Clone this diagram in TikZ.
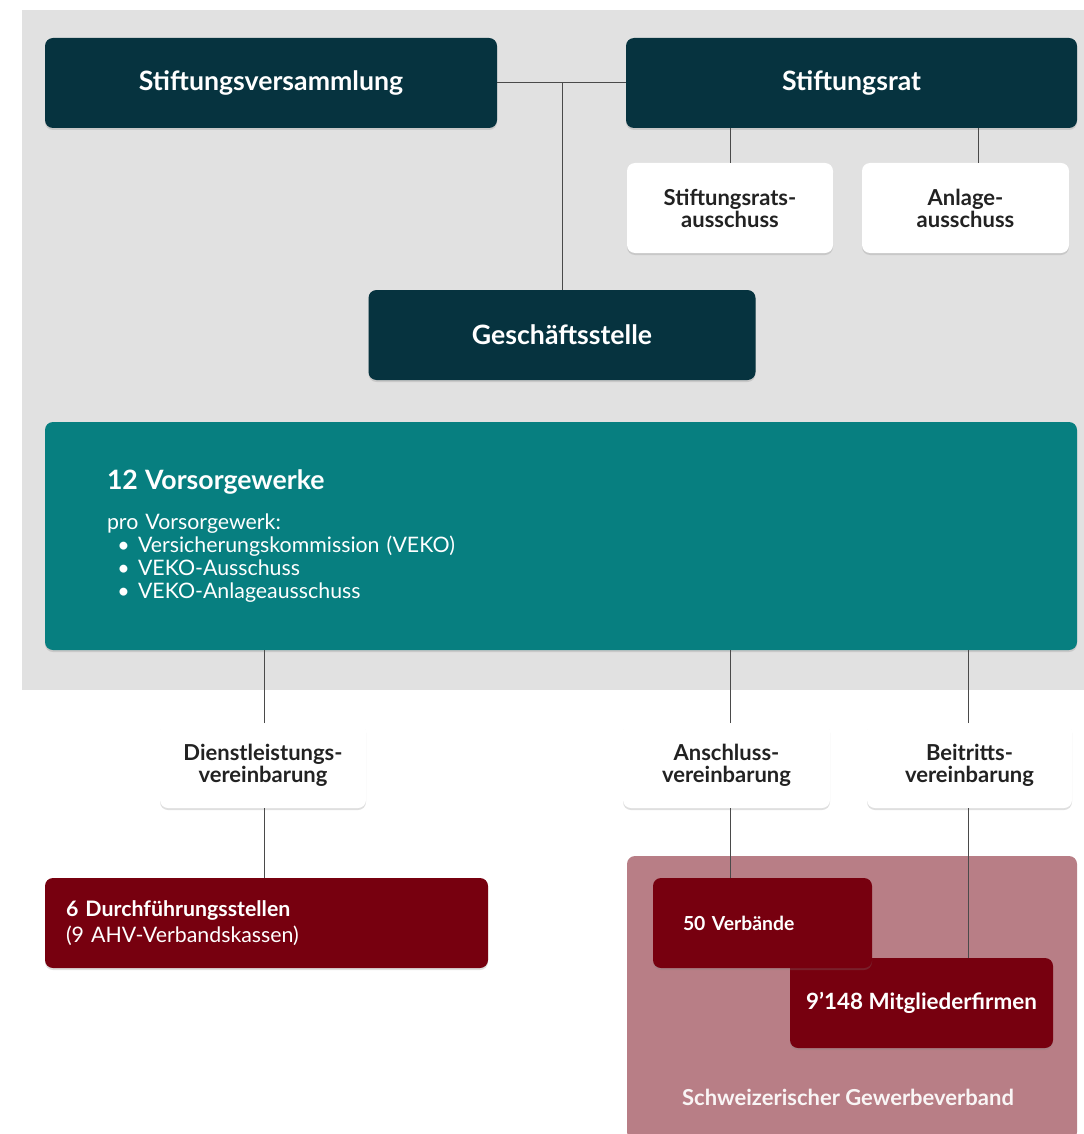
\documentclass[tikz,border=0pt]{standalone}
\usepackage{fontspec}
\setmainfont{Lato}
\usetikzlibrary{positioning,shadows}

\definecolor{navy}{HTML}{06333F}
\definecolor{teal}{HTML}{077F80}
\definecolor{wine}{HTML}{77000F}
\definecolor{rosepanel}{HTML}{B87E86}
\definecolor{panelgrey}{HTML}{E1E1E1}
\definecolor{ink}{HTML}{222222}
\definecolor{wire}{HTML}{4A4A4A}

\tikzset{
  card/.style={rounded corners=6pt, inner sep=0pt, minimum height=67.5pt,
    drop shadow={shadow xshift=0pt, shadow yshift=-1.5pt, opacity=0.25}},
  darkbox/.style={card, fill=navy, text=white, font=\bfseries\fontsize{20}{24}\selectfont},
  whitebox/.style={card, fill=white, text=ink, align=center, font=\bfseries\fontsize{16.5}{16.5}\selectfont},
  winebox/.style={card, fill=wine, text=white},
  wire/.style={draw=wire, line width=0.75pt}
}

\begin{document}
\begin{tikzpicture}[x=0.75pt, y=-0.75pt]
    %%%%% START %%%%%
    \useasboundingbox (0, 0) rectangle (1084, 1134);

    \fill[panelgrey] (22, 10) rectangle (1100, 690);

    \node[darkbox, minimum width=339pt] (sv) at (271, 83) {Stiftungsversammlung};
    \node[darkbox, minimum width=338.25pt] (sr) at (851.5, 83) {Stiftungsrat};
    \node[whitebox, minimum width=154.5pt] (sra) at (730, 208) {Stiftungsrats-\\ausschuss};
    \node[whitebox, minimum width=155.25pt] (aa) at (965.5, 208) {Anlage-\\ausschuss};
    \node[darkbox, minimum width=290.25pt] (gs) at (562, 335) {Geschäftsstelle};

    \draw[wire] (sv.east) -- (sr.west);
    \draw[wire] (gs.north |- sv.east) -- (gs.north);
    \draw[wire] (sra.north) -- (sra.north |- sr.south);
    \coordinate (aatop) at (978, 163);
    \draw[wire] (aatop) -- (aatop |- sr.south);

    \node[card, fill=teal, text=white, minimum width=774pt, minimum height=171pt,
          text width=681pt, align=left, inner xsep=46.5pt,
          font=\fontsize{16}{17.25}\selectfont] (vw) at (561, 536)
      {{\bfseries\fontsize{20}{24}\selectfont 12 Vorsorgewerke}\\[12.5pt]
       pro Vorsorgewerk:\\
       \hspace*{7.75pt}\textbullet\hspace{6.25pt}Versicherungskommission (VEKO)\\
       \hspace*{7.75pt}\textbullet\hspace{6.25pt}VEKO-Ausschuss\\
       \hspace*{7.75pt}\textbullet\hspace{6.25pt}VEKO-Anlageausschuss};

    \node[whitebox, minimum width=154.5pt, minimum height=63.75pt] (dl) at (263, 765.5) {Dienstleistungs-\\vereinbarung};
    \node[whitebox, minimum width=155.25pt, minimum height=63.75pt] (av) at (726.5, 765.5) {Anschluss-\\vereinbarung};
    \node[whitebox, minimum width=153.75pt, minimum height=63.75pt] (bv) at (969.5, 765.5) {Beitritts-\\vereinbarung};

    \coordinate (dltop) at (264, 723);
    \coordinate (avtop) at (730, 723);
    \coordinate (bvtop) at (968, 723);
    \draw[wire] (dltop) -- (dltop |- vw.south);
    \draw[wire] (avtop) -- (avtop |- vw.south);
    \draw[wire] (bvtop) -- (bvtop |- vw.south);

    \node[winebox, minimum width=332.25pt, text width=300.75pt, inner xsep=15.75pt, align=left,
          font=\fontsize{16}{19}\selectfont] (ds) at (266.5, 923)
      {{\bfseries 6 Durchführungsstellen}\\(9 AHV-Verbandskassen)};
    \coordinate (dlbot) at (264, 808);
    \draw[wire] (dlbot) -- (dlbot |- ds.north);

    \node[rounded corners=6pt, fill=rosepanel, minimum width=337.5pt, minimum height=213pt,
          inner sep=0pt] (sgv) at (852, 998) {};
    \node[text=white!92!rosepanel, font=\bfseries\fontsize{16.5}{19}\selectfont] (sgvlabel) at (848, 1097)
      {Schweizerischer Gewerbeverband};

    \node[winebox, minimum width=197.25pt, font=\bfseries\fontsize{16.8}{19}\selectfont] (mf) at (921.5, 1003)
      {9’148 Mitgliederfirmen};
    \node[winebox, minimum width=164.25pt, text width=119.25pt, inner xsep=22.5pt, align=left,
          font=\bfseries\fontsize{14.5}{17}\selectfont] (vb) at (762.5, 923) {50 Verbände};

    \coordinate (avbot) at (730, 808);
    \coordinate (bvbot) at (968, 808);
    \draw[wire] (avbot) -- (avbot |- vb.north);
    \draw[wire] (bvbot) -- (bvbot |- mf.north);
    %%%%% END %%%%%
\end{tikzpicture}
\end{document}
